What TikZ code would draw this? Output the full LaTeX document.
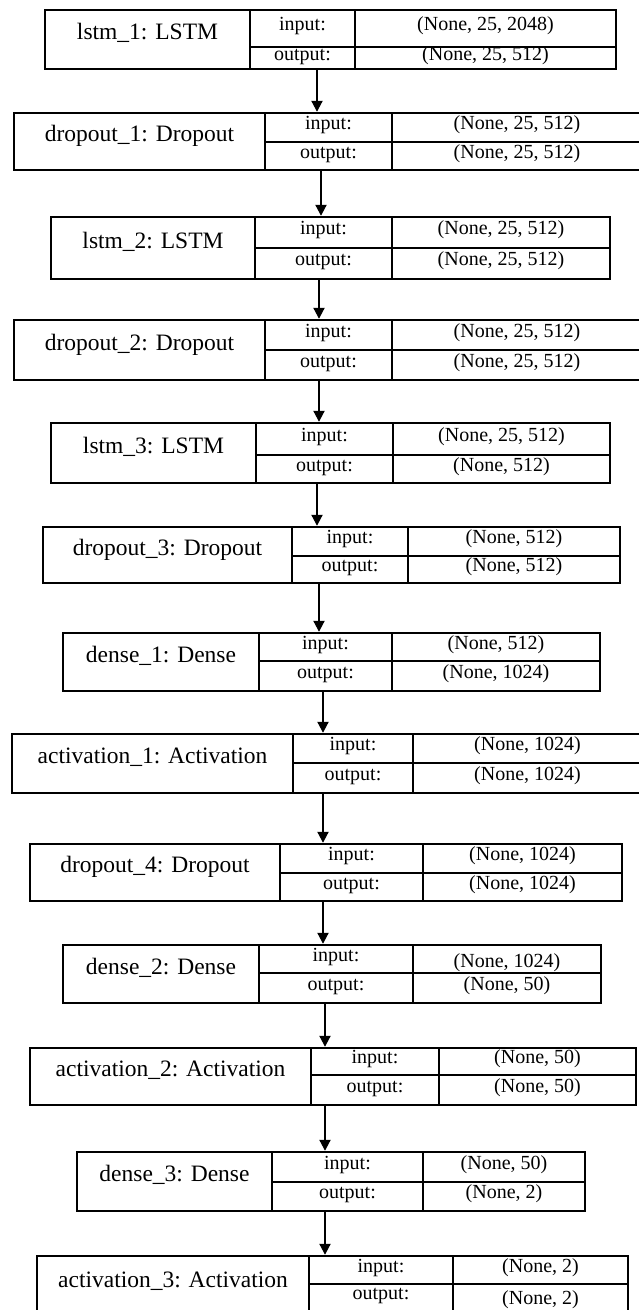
\documentclass[tikz,border=0pt]{standalone}
\usepackage{fontspec}
\setmainfont{Liberation Serif}
\usetikzlibrary{arrows.meta,calc}
\tikzset{
  layerbox/.style={draw=black, line width=2.4pt, inner sep=0pt, rectangle},
  divline/.style={draw=black, line width=1.9pt},
  flow/.style={draw=black, line width=2pt, -{Triangle[width=11pt,length=11pt]}},
  nametxt/.style={font=\fontsize{23.5}{26}\selectfont, anchor=mid, inner sep=0pt},
  celltxt/.style={font=\fontsize{20}{22}\selectfont, anchor=mid, inner sep=0pt},
}
% #1 id, #2 left, #3 top, #4 div1, #5 div2, #6 right, #7 bottom, #8 mid
\newcommand{\lay}[8]{%
  \node[layerbox, minimum width={(#6)-(#2)}, minimum height={(#7)-(#3)}] (#1) at ({((#2)+(#6))/2},{((#3)+(#7))/2}) {};
  \coordinate (#1-tl) at (#2,#3);
  \coordinate (#1-d1t) at (#4,#3);
  \coordinate (#1-d1m) at (#4,#8);
  \coordinate (#1-d1b) at (#4,#7);
  \coordinate (#1-d2t) at (#5,#3);
  \coordinate (#1-d2m) at (#5,#8);
  \coordinate (#1-d2b) at (#5,#7);
  \coordinate (#1-rm) at (#6,#8);
  \coordinate (#1-rb) at (#6,#7);
  \draw[divline] (#1-d1t) -- (#1-d1b);
  \draw[divline] (#1-d2t) -- (#1-d2b);
  \draw[divline] (#1-d1m) -- (#1-rm);
}
% #1 id, #2 name, #3 input value, #4 output value
\newcommand{\laytxt}[4]{%
  \node[nametxt] (#1-name) at ($($(#1-tl)!0.5!(#1-d1b)$)+(0,-2)$) {#2};
  \node[celltxt] (#1-il) at ($(#1-d1t)!0.5!(#1-d2m)$) {input:};
  \node[celltxt] (#1-ol) at ($(#1-d1m)!0.5!(#1-d2b)$) {output:};
  \node[celltxt] (#1-iv) at ($(#1-d2t)!0.5!(#1-rm)$) {#3};
  \node[celltxt] (#1-ov) at ($(#1-d2m)!0.5!(#1-rb)$) {#4};
}
\begin{document}
\begin{tikzpicture}[x=1pt,y=-1pt]
\useasboundingbox (0,0) rectangle (638,1310);
\fill[white] (0,0) rectangle (638,1310);

\lay{L1}{45}{10}{250}{355}{616}{69}{47}
\laytxt{L1}{lstm\_1: LSTM}{(None, 25, 2048)}{(None, 25, 512)}
\lay{L2}{14}{113}{265}{392}{642}{170}{142}
\laytxt{L2}{dropout\_1: Dropout}{(None, 25, 512)}{(None, 25, 512)}
\lay{L3}{51}{217}{255}{392}{610}{279}{248}
\laytxt{L3}{lstm\_2: LSTM}{(None, 25, 512)}{(None, 25, 512)}
\lay{L4}{14}{320}{265}{392}{642}{380}{350}
\laytxt{L4}{dropout\_2: Dropout}{(None, 25, 512)}{(None, 25, 512)}
\lay{L5}{51}{423}{256}{393}{610}{483}{455}
\laytxt{L5}{lstm\_3: LSTM}{(None, 25, 512)}{(None, 512)}
\lay{L6}{43}{527}{292}{408}{620}{583}{556}
\laytxt{L6}{dropout\_3: Dropout}{(None, 512)}{(None, 512)}
\lay{L7}{63}{633}{259}{392}{600}{691}{661}
\laytxt{L7}{dense\_1: Dense}{(None, 512)}{(None, 1024)}
\lay{L8}{12}{734}{293}{413}{642}{793}{763}
\laytxt{L8}{activation\_1: Activation}{(None, 1024)}{(None, 1024)}
\lay{L9}{30}{844}{280}{423}{622}{901}{873}
\laytxt{L9}{dropout\_4: Dropout}{(None, 1024)}{(None, 1024)}
\lay{L10}{63}{945}{259}{413}{601}{1003}{973}
\node[nametxt] (L10-name) at ($($(L10-tl)!0.5!(L10-d1b)$)+(0,-2)$) {dense\_2: Dense};
\node[celltxt] (L10-il) at ($(L10-d1t)!0.5!(L10-d2m)$) {input:};
\node[celltxt] (L10-ol) at ($(L10-d1m)!0.5!(L10-d2b)$) {output:};
\node[celltxt] (L10-iv) at ($($(L10-d2t)!0.5!(L10-rm)$)+(0,6)$) {(None, 1024)};
\node[celltxt] (L10-ov) at ($(L10-d2m)!0.5!(L10-rb)$) {(None, 50)};
\draw[divline] (L10-d2m) -- (L10-rm);
\lay{L11}{30}{1048}{311}{439}{636}{1105}{1075}
\laytxt{L11}{activation\_2: Activation}{(None, 50)}{(None, 50)}
\lay{L12}{77}{1152}{272}{423}{585}{1211}{1182}
\laytxt{L12}{dense\_3: Dense}{(None, 50)}{(None, 2)}
\lay{L13}{37}{1256}{309}{453}{628}{1318}{1284}
\node[nametxt] (L13-name) at ($($(L13-tl)!0.5!(L13-d1b)$)+(0,-2)$) {activation\_3: Activation};
\node[celltxt] (L13-il) at ($(L13-d1t)!0.5!(L13-d2m)$) {input:};
\node[celltxt] (L13-ol) at ($($(L13-d1m)!0.5!(L13-d2b)$)+(0,-4)$) {output:};
\node[celltxt] (L13-iv) at ($(L13-d2t)!0.5!(L13-rm)$) {(None, 2)};
\node[celltxt] (L13-ov) at ($($(L13-d2m)!0.5!(L13-rb)$)+(0,1)$) {(None, 2)};

\coordinate (a1) at (317,0);
\coordinate (a2) at (321,0);
\coordinate (a3) at (319,0);
\coordinate (a4) at (319,0);
\coordinate (a5) at (317,0);
\coordinate (a6) at (319,0);
\coordinate (a7) at (323,0);
\coordinate (a8) at (323,0);
\coordinate (a9) at (323,0);
\coordinate (a10) at (325,0);
\coordinate (a11) at (325,0);
\coordinate (a12) at (325,0);
\draw[flow] (L1.south -| a1) -- (L2.north -| a1);
\draw[flow] (L2.south -| a2) -- (L3.north -| a2);
\draw[flow] (L3.south -| a3) -- (L4.north -| a3);
\draw[flow] (L4.south -| a4) -- (L5.north -| a4);
\draw[flow] (L5.south -| a5) -- (L6.north -| a5);
\draw[flow] (L6.south -| a6) -- (L7.north -| a6);
\draw[flow] (L7.south -| a7) -- (L8.north -| a7);
\draw[flow] (L8.south -| a8) -- (L9.north -| a8);
\draw[flow] (L9.south -| a9) -- (L10.north -| a9);
\draw[flow] (L10.south -| a10) -- (L11.north -| a10);
\draw[flow] (L11.south -| a11) -- (L12.north -| a11);
\draw[flow] (L12.south -| a12) -- (L13.north -| a12);
\end{tikzpicture}
\end{document}
